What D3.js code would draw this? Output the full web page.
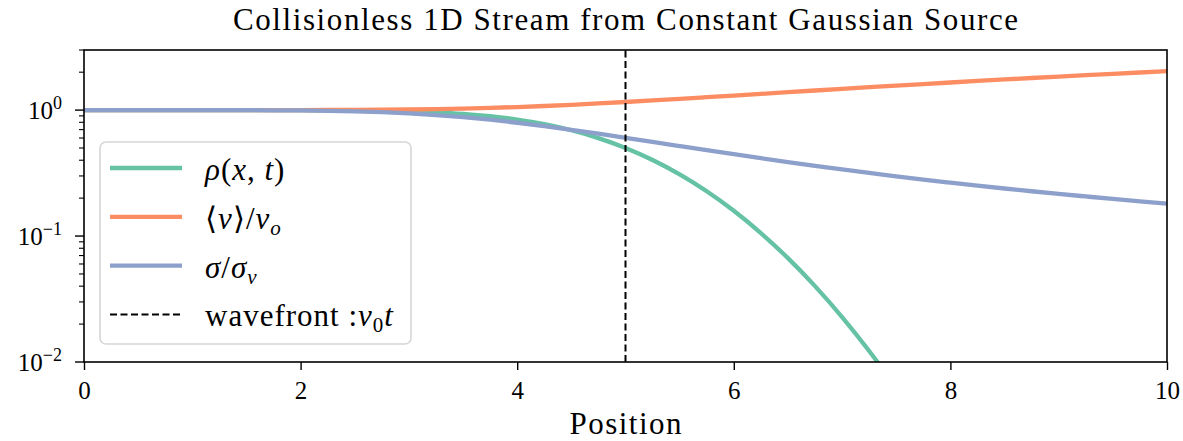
<!DOCTYPE html>
<html>
<head>
<meta charset="utf-8">
<script src="https://cdn.jsdelivr.net/npm/d3@7"></script>
<style>
  html, body { margin: 0; padding: 0; background: #fff; }
  svg { display: block; }
  text { font-family: "Liberation Serif", "DejaVu Serif", serif; fill: #000; }
</style>
</head>
<body>
<svg id="chart" width="1183" height="441"></svg>
<script>
// Stream profile sampled along the domain
const position = [0, 0.25, 0.5, 0.75, 1, 1.25, 1.5, 1.75, 2, 2.25, 2.5, 2.75, 3, 3.25, 3.5, 3.75,
  4, 4.25, 4.5, 4.75, 5, 5.25, 5.5, 5.75, 6, 6.25, 6.5, 6.75, 7, 7.25, 7.5, 7.75,
  8, 8.25, 8.5, 8.75, 9, 9.25, 9.5, 9.75, 10];

// rho(x, t)
const density = [1.0000, 1.0000, 1.0000, 0.99999, 0.99997, 0.99991, 0.99977, 0.99942, 0.99865,
  0.99702, 0.99379, 0.98778, 0.97725, 0.95994, 0.93319, 0.89435, 0.84134, 0.77337, 0.69146,
  0.59871, 0.50000, 0.40129, 0.30854, 0.22663, 0.15866, 0.10565, 0.066807, 0.040059, 0.022750,
  0.012224, 0.0062097, 0.0029798, 0.0013499, 0.00057703, 0.00023263, 0.000088417, 0.000031671,
  0.000010689, 0.0000033977, 0.0000010171, 0.00000028665];

// <v>/v_o
const meanVelocity = [1.0000, 1.0000, 1.0000, 1.0000, 1.0000, 1.0001, 1.0002, 1.0004, 1.0009,
  1.0018, 1.0035, 1.0064, 1.0110, 1.0180, 1.0278, 1.0408, 1.0575, 1.0779, 1.1018, 1.1292,
  1.1596, 1.1927, 1.2282, 1.2658, 1.3050, 1.3458, 1.3877, 1.4307, 1.4746, 1.5193, 1.5645,
  1.6104, 1.6566, 1.7033, 1.7503, 1.7976, 1.8451, 1.8929, 1.9409, 1.9890, 2.0373];

// sigma/sigma_v
const dispersion = [1.0000, 1.0000, 1.0000, 0.9999, 0.9997, 0.9993, 0.9985, 0.9967, 0.9933,
  0.9873, 0.9775, 0.9626, 0.9415, 0.9136, 0.8790, 0.8385, 0.7935, 0.7459, 0.6973, 0.6492,
  0.6028, 0.5590, 0.5182, 0.4806, 0.4462, 0.4150, 0.3867, 0.3612, 0.3380, 0.3171, 0.2983,
  0.2807, 0.2654, 0.2514, 0.2385, 0.2268, 0.2160, 0.2062, 0.1970, 0.1886, 0.1809];

const wavefront = 5;            // v0 * t
const xTicks = [0, 2, 4, 6, 8, 10];
const yMajorTicks = [1, 0.1, 0.01];
const yExponents = ["0", "\u22121", "\u22122"];
const xDomain = [0, 10];
const yDomain = [0.01, 3];

const colors = { density: "#66c2a5", velocity: "#fc8d62", dispersion: "#8da0cb" };

const svg = d3.select("#chart");
const margin = { left: 84, right: 16, top: 50, bottom: 79 };
const W = 1183, H = 441;
const x = d3.scaleLinear().domain(xDomain).range([margin.left, W - margin.right]);
const y = d3.scaleLog().domain(yDomain).range([H - margin.bottom, margin.top]);

svg.append("defs").append("clipPath").attr("id", "plotClip")
  .append("rect")
  .attr("x", x(xDomain[0])).attr("y", y(yDomain[1]))
  .attr("width", x(xDomain[1]) - x(xDomain[0]))
  .attr("height", y(yDomain[0]) - y(yDomain[1]));

const plot = svg.append("g").attr("clip-path", "url(#plotClip)");

const line = d3.line()
  .x(d => x(d[0]))
  .y(d => y(Math.max(d[1], 1e-4)))
  .curve(d3.curveMonotoneX);

const series = [
  { values: density, color: colors.density },
  { values: meanVelocity, color: colors.velocity },
  { values: dispersion, color: colors.dispersion }
];

series.forEach(s => {
  plot.append("path")
    .datum(position.map((p, i) => [p, s.values[i]]))
    .attr("fill", "none")
    .attr("stroke", s.color)
    .attr("stroke-width", 4.3)
    .attr("d", line);
});

plot.append("line")
  .attr("x1", x(wavefront)).attr("x2", x(wavefront))
  .attr("y1", y(yDomain[0])).attr("y2", y(yDomain[1]))
  .attr("stroke", "#000")
  .attr("stroke-width", 2)
  .attr("stroke-dasharray", "7,3.5");

// Axes
const xAxis = d3.axisBottom(x).tickValues(xTicks).tickSize(8).tickPadding(6)
  .tickFormat(d3.format("d"));
const gx = svg.append("g")
  .attr("transform", `translate(0,${y(yDomain[0])})`)
  .call(xAxis);
gx.select(".domain").remove();
gx.selectAll(".tick line").attr("stroke", "#000").attr("stroke-width", 1.4);
gx.selectAll(".tick text")
  .style("font-size", "25px")
  .style("font-family", "'Liberation Serif', serif")
  .attr("dy", "0.92em");

// minor y ticks
const minorTicks = [];
for (let e = -2; e <= 0; e++) {
  for (let m = 2; m <= 9; m++) {
    const v = m * Math.pow(10, e);
    if (v <= yDomain[1] + 1e-9) minorTicks.push(v);
  }
}
svg.append("g").selectAll("line").data(minorTicks).join("line")
  .attr("x1", x(xDomain[0]) - 5).attr("x2", x(xDomain[0]))
  .attr("y1", d => y(d)).attr("y2", d => y(d))
  .attr("stroke", "#000").attr("stroke-width", 1.1);

const gy = svg.append("g");
gy.selectAll("line").data(yMajorTicks).join("line")
  .attr("x1", x(xDomain[0]) - 9).attr("x2", x(xDomain[0]))
  .attr("y1", d => y(d)).attr("y2", d => y(d))
  .attr("stroke", "#000").attr("stroke-width", 1.4);

yMajorTicks.forEach((v, i) => {
  const t = gy.append("text")
    .attr("x", x(xDomain[0]) - 22)
    .attr("y", y(v) + 9)
    .attr("text-anchor", "end")
    .style("font-size", "25px");
  t.append("tspan").text("10");
  t.append("tspan").attr("dy", -10).style("font-size", "18px").text(yExponents[i]);
});

// plot frame
svg.append("rect")
  .attr("x", x(xDomain[0])).attr("y", y(yDomain[1]))
  .attr("width", x(xDomain[1]) - x(xDomain[0]))
  .attr("height", y(yDomain[0]) - y(yDomain[1]))
  .attr("fill", "none").attr("stroke", "#000").attr("stroke-width", 1.6);

// Title and axis label
svg.append("text")
  .attr("x", (x(xDomain[0]) + x(xDomain[1])) / 2).attr("y", 30)
  .attr("text-anchor", "middle").style("font-size", "31px")
  .attr("textLength", 785).attr("lengthAdjust", "spacing")
  .text("Collisionless 1D Stream from Constant Gaussian Source");

svg.append("text")
  .attr("x", (x(xDomain[0]) + x(xDomain[1])) / 2).attr("y", 434)
  .attr("text-anchor", "middle").style("font-size", "31px")
  .attr("textLength", 112).attr("lengthAdjust", "spacing")
  .text("Position");

// Legend
const legend = svg.append("g").attr("transform", "translate(100,142)");
legend.append("rect")
  .attr("x", 0).attr("y", 0).attr("width", 311).attr("height", 202)
  .attr("rx", 6).attr("ry", 6)
  .attr("fill", "#fff").attr("fill-opacity", 0.8)
  .attr("stroke", "#d6d6d6").attr("stroke-width", 1.6);

const entries = [
  { color: colors.density, dash: null, parts: [["\u03C1", "i"], ["(", "n"], ["x", "i"], [", ", "n"], ["t", "i"], [")", "n"]] },
  { color: colors.velocity, dash: null, parts: [["\u27E8", "n"], ["v", "i"], ["\u27E9/", "n"], ["v", "i"], ["o", "is"]] },
  { color: colors.dispersion, dash: null, parts: [["\u03C3", "i"], ["/", "n"], ["\u03C3", "i"], ["v", "is"]] },
  { color: "#000", dash: "7,3.5", parts: [["wavefront :", "n"], ["v", "i"], ["0", "ns"], ["t", "i"]] }
];

entries.forEach((e, i) => {
  const cy = 26 + i * 48.8;
  legend.append("line")
    .attr("x1", 10).attr("x2", 82).attr("y1", cy).attr("y2", cy)
    .attr("stroke", e.color)
    .attr("stroke-width", e.dash ? 2 : 4.3)
    .attr("stroke-dasharray", e.dash);
  const t = legend.append("text").attr("x", 105).attr("y", cy + 12)
    .style("font-size", "31px").style("letter-spacing", "1px");
  let sub = false;
  e.parts.forEach(([s, style]) => {
    const ts = t.append("tspan").text(s);
    if (style.startsWith("i")) ts.style("font-style", "italic");
    const isSub = style.endsWith("s");
    if (isSub) { ts.style("font-size", "21px").attr("dy", 6); sub = true; }
    else if (sub) { ts.attr("dy", -6); sub = false; }
  });
});
</script>
</body>
</html>
